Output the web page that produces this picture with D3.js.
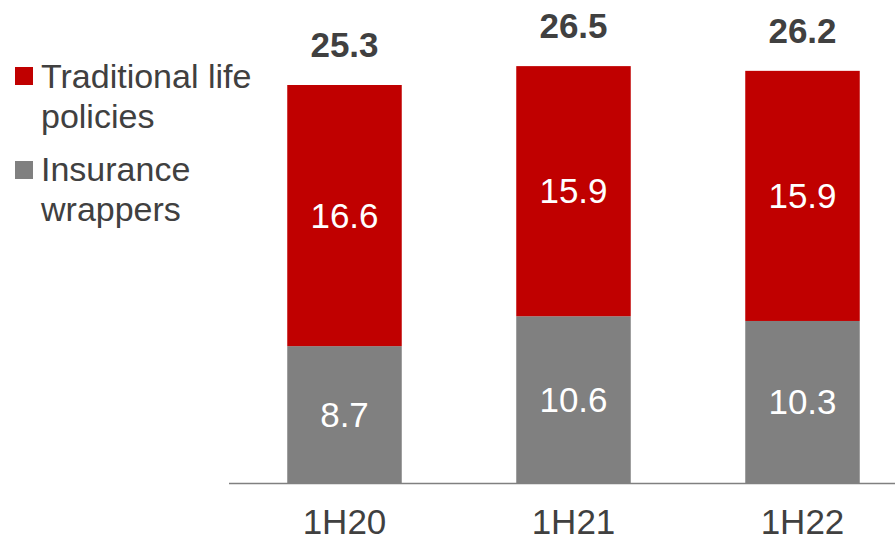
<!DOCTYPE html>
<html><head><meta charset="utf-8">
<script src="https://cdn.jsdelivr.net/npm/d3@7"></script>
<style>body{margin:0;background:#fff}svg{display:block}text{font-family:"Liberation Sans",Arial,sans-serif}</style>
</head><body><svg id="c" width="895" height="542"></svg>
<script>
const categories = ["1H20", "1H21", "1H22"];
const traditional = [16.6, 15.9, 15.9];
const wrappers = [8.7, 10.6, 10.3];
const totals = [25.3, 26.5, 26.2];
const seriesNames = ["Traditional life policies", "Insurance wrappers"];

const svg = d3.select("#c");
const W = 895, H = 542;
const baseY = 483;
const xs = d3.scaleBand().domain(categories).range([287 - 57, 860 + 57]).paddingInner(0.5).paddingOuter(0.25);
const y = d3.scaleLinear().domain([0, 25.3]).range([baseY, 85]);

const red = "#C00000", gray = "#808080", txt = "#404040";

const data = categories.map((c, i) => ({c, w: wrappers[i], t: traditional[i], tot: totals[i]}));

const g = svg.append("g");
g.selectAll(".w").data(data).join("rect")
  .attr("x", d => xs(d.c)).attr("width", xs.bandwidth())
  .attr("y", d => y(d.w)).attr("height", d => baseY - y(d.w)).attr("fill", gray);
g.selectAll(".t").data(data).join("rect")
  .attr("x", d => xs(d.c)).attr("width", xs.bandwidth())
  .attr("y", d => y(d.w + d.t)).attr("height", d => y(d.w) - y(d.w + d.t)).attr("fill", red);

svg.append("line").attr("x1", 229).attr("x2", W).attr("y1", baseY + 0.5).attr("y2", baseY + 0.5)
  .attr("stroke", "#808080").attr("stroke-width", 1.5);

const fs = 35;
g.selectAll(".wl").data(data).join("text")
  .attr("x", d => xs(d.c) + xs.bandwidth() / 2).attr("y", d => (y(d.w) + baseY) / 2 + 12)
  .attr("text-anchor", "middle").attr("fill", "#fff").attr("font-size", fs).text(d => d.w.toFixed(1));
g.selectAll(".tl").data(data).join("text")
  .attr("x", d => xs(d.c) + xs.bandwidth() / 2).attr("y", d => (y(d.w) + y(d.w + d.t)) / 2 + 12)
  .attr("text-anchor", "middle").attr("fill", "#fff").attr("font-size", fs).text(d => d.t.toFixed(1));
g.selectAll(".tot").data(data).join("text")
  .attr("x", d => xs(d.c) + xs.bandwidth() / 2).attr("y", d => y(d.tot) - 28)
  .attr("text-anchor", "middle").attr("fill", txt).attr("font-size", fs).attr("font-weight", "bold")
  .text(d => d.tot.toFixed(1));
g.selectAll(".cat").data(data).join("text")
  .attr("x", d => xs(d.c) + xs.bandwidth() / 2).attr("y", 534)
  .attr("text-anchor", "middle").attr("fill", txt).attr("font-size", 35).text(d => d.c);

const legend = [
  {color: red, lines: ["Traditional life", "policies"], y0: 88, sq: 67},
  {color: gray, lines: ["Insurance", "wrappers"], y0: 181, sq: 161}
];
legend.forEach(l => {
  svg.append("rect").attr("x", 15).attr("y", l.sq).attr("width", 18).attr("height", 18).attr("fill", l.color);
  l.lines.forEach((s, j) => {
    svg.append("text").attr("x", 41).attr("y", l.y0 + j * 40).attr("fill", txt).attr("font-size", 34).text(s);
  });
});
</script></body></html>
